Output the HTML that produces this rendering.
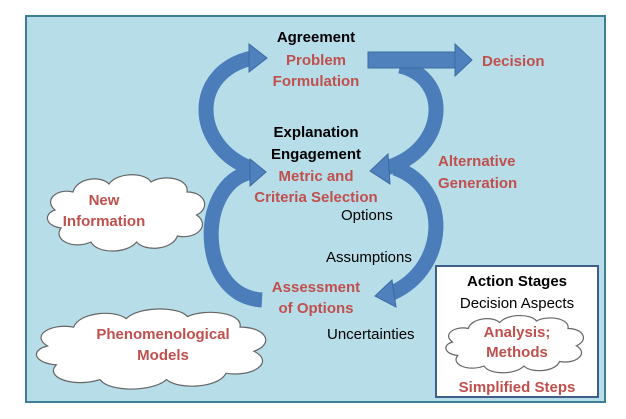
<!DOCTYPE html>
<html><head><style>
body{margin:0;width:626px;height:419px;background:#fff;overflow:hidden}
svg{display:block}
text{font-family:"Liberation Sans",sans-serif;font-size:15px}
.b{font-weight:bold;fill:#000}
.r{font-weight:bold;fill:#c0504d}
.n{fill:#000}
</style></head><body>
<svg width="626" height="419" viewBox="0 0 626 419">
<rect x="26" y="16" width="579" height="386" fill="#b7dde8" stroke="#3f7f96" stroke-width="2"/>
<defs>
<g id="cloud">
<path d="M10 40 C0 30 12 18 25 22 C28 8 48 5 55 14 C62 2 85 2 90 12 C100 4 122 8 120 22 C135 22 140 38 128 45 C140 55 128 70 112 66 C108 80 85 82 78 72 C70 84 45 84 40 72 C25 80 8 70 15 58 C2 56 0 44 10 40 Z" fill="#fff" stroke="#666" stroke-width="1.2" vector-effect="non-scaling-stroke"/>
</g>
</defs>
<g transform="translate(43,170) scale(1.2,1)"><use href="#cloud"/></g>
<g transform="translate(30,304) scale(1.75,1.05)"><use href="#cloud"/></g>
<rect x="436" y="266" width="162" height="131" fill="#fff" stroke="#3d5f8a" stroke-width="2"/>
<g transform="translate(442,312) scale(1.05,0.75)"><use href="#cloud"/></g>
<g fill="none" stroke="#4a7dba" stroke-width="15">
<path d="M250 168 C192 145 190 72 252 58"/>
<path d="M262 300 C196 296 196 182 252 172"/>
<path d="M400 66 C452 78 448 150 386 168"/>
<path d="M395 168 C452 188 448 268 392 293"/>
</g>
<g fill="#4f81bd" stroke="#3a6aa3" stroke-width="1">
<polygon points="249,44 267,58 249,72"/>
<polygon points="250,159 266,172 250,186"/>
<rect x="368" y="52" width="88" height="16"/>
<polygon points="455,44 472,60 455,76"/>
<polygon points="388,154 370,171 390,184"/>
<polygon points="392,280 375,296 396,307"/>
</g>
<g text-anchor="middle">
<text x="316" y="42" class="b">Agreement</text>
<text x="316" y="65" class="r">Problem</text>
<text x="316" y="86" class="r">Formulation</text>
<text x="316" y="137" class="b">Explanation</text>
<text x="316" y="159" class="b">Engagement</text>
<text x="316" y="181" class="r">Metric and</text>
<text x="316" y="202" class="r">Criteria Selection</text>
<text x="316" y="292" class="r">Assessment</text>
<text x="316" y="313" class="r">of Options</text>
<text x="104" y="205" class="r">New</text>
<text x="104" y="226" class="r">Information</text>
<text x="163" y="339" class="r">Phenomenological</text>
<text x="163" y="360" class="r">Models</text>
<text x="517" y="286" class="b">Action Stages</text>
<text x="517" y="308" class="n">Decision Aspects</text>
<text x="517" y="337" class="r">Analysis;</text>
<text x="517" y="357" class="r">Methods</text>
<text x="517" y="392" class="r">Simplified Steps</text>
</g>
<text x="341" y="220" class="n">Options</text>
<text x="326" y="262" class="n">Assumptions</text>
<text x="327" y="339" class="n">Uncertainties</text>
<text x="482" y="66" class="r">Decision</text>
<text x="438" y="166" class="r">Alternative</text>
<text x="438" y="188" class="r">Generation</text>
</svg>
</body></html>
